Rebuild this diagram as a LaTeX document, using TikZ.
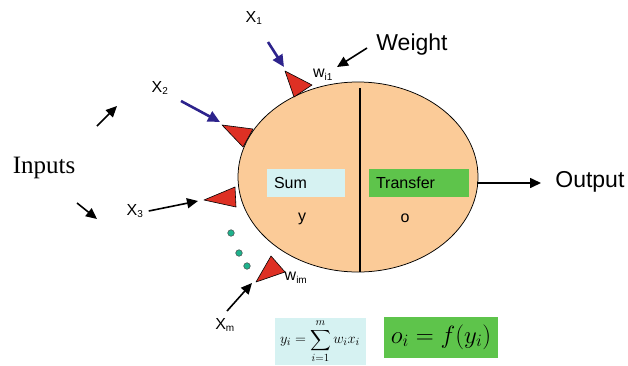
\documentclass[tikz,border=0pt]{standalone}
\usepackage{amsmath}
\usepackage{fontspec}
\setmainfont{Liberation Sans}
\newfontfamily\seriffont{Liberation Serif}
\usepackage{tikz}
\usetikzlibrary{arrows.meta,positioning,calc}
\definecolor{peach}{RGB}{251,203,152}
\definecolor{sumcyan}{RGB}{214,242,242}
\definecolor{trgreen}{RGB}{94,196,75}
\definecolor{wred}{RGB}{222,48,36}
\definecolor{inblue}{RGB}{45,35,140}
\definecolor{dotteal}{RGB}{30,178,140}
\tikzset{every picture/.style={line width=0.75pt}}
\tikzset{
  lbl/.style={font=\fontsize{16}{18}\selectfont, inner sep=1pt},
  big/.style={font=\fontsize{23}{26}\selectfont, inner sep=1pt},
  boxlbl/.style={font=\fontsize{16}{18}\selectfont, inner ysep=0pt, inner xsep=7pt,
    minimum height=28pt, align=left},
  wtri/.style={fill=wred, draw=black, line width=0.6pt, line join=round},
  blk/.style={-{Triangle[length=11pt,width=10pt]}, line width=1.6pt},
  blu/.style={-{Triangle[length=12pt,width=11pt]}, line width=2.6pt, inblue},
  dotc/.style={fill=dotteal, draw=black!70, line width=0.5pt}
}
\newcommand{\xsub}[2]{#1\textsubscript{\fontsize{10}{10}\selectfont #2}}

\begin{document}
\begin{tikzpicture}[x=1pt, y=-1pt]
    \useasboundingbox (0,0) rectangle (628,365);

    % 神经元主体
    \fill[peach] (358,177) ellipse [x radius=120, y radius=95];
    \draw (358,177) ellipse [x radius=120, y radius=95];
    \draw[line width=1.2pt] (360,88) -- (360,272);

    % 求和与传递
    \node[boxlbl, fill=sumcyan, text width=64pt] (sum) at (306,183) {Sum};
    \node[boxlbl, fill=trgreen, text width=86pt] (transfer) at (419,183) {Transfer};
    \node[lbl] (y) at (302,219) {y};
    \node[lbl] (o) at (405,218) {o};

    % 输出
    \coordinate (outstart) at (477,183);
    \coordinate (outend) at (541,183);
    \node[big, anchor=west] (output) at (554,182) {Output};
    \draw[blk] (outstart) -- (outend);

    % 权重三角
    \draw[wtri] (285,71) -- (294,97) -- (312,85) -- cycle;
    \draw[wtri] (222,125) -- (243,147) -- (253,129) -- cycle;
    \draw[wtri] (204,200) -- (235,187) -- (236,207) -- cycle;
    \draw[wtri] (256,282) -- (271,256) -- (285,272) -- cycle;
    \node[lbl] (wi1) at (323,75) {\xsub{w}{i1}};
    \node[lbl] (wim) at (296,278) {\xsub{w}{im}};

    % 标注权重
    \node[big] (weight) at (412,45) {Weight};
    \coordinate (wtip) at (337,67);
    \draw[blk] (weight.west) ++(-8,3) -- (wtip);

    % 输入
    \node[lbl] (x1) at (254,18) {\xsub{X}{1}};
    \node[lbl] (x2) at (160,88) {\xsub{X}{2}};
    \node[lbl] (x3) at (135,211) {\xsub{X}{3}};
    \node[lbl] (xm) at (225,325) {\xsub{X}{m}};
    \coordinate (t1) at (284,67);
    \coordinate (t2) at (220,122);
    \coordinate (t3) at (198,201);
    \coordinate (tm) at (252,283);
    \draw[blu] (268,42) -- (t1);
    \draw[blu] (181,101) -- (t2);
    \draw[blk] (x3.east) ++(4,0) -- (t3);
    \draw[blk] (227,311) -- (tm);

    % 省略的输入
    \foreach \p in {(231,233),(239,253),(247,266)}
        \draw[dotc] \p circle (3.3);

    % Inputs 标签
    \node[font=\seriffont\fontsize{25}{28}\selectfont] (inputs) at (44,168) {Inputs};
    \coordinate (up) at (117,106);
    \coordinate (dn) at (97,219);
    \draw[blk] (97,126) -- (up);
    \draw[blk] (77,203) -- (dn);

    % 公式
    \node[fill=sumcyan, minimum width=91pt, minimum height=47pt, inner sep=0pt,
          font=\fontsize{15}{17}\selectfont, anchor=south] (eqsum) at (320,365)
          {$\displaystyle y_i=\sum_{i=1}^{m} w_i x_i$};
    \node[fill=trgreen, minimum width=114pt, minimum height=41pt, inner sep=0pt,
          font=\fontsize{24}{28}\selectfont] (eqf) at (441,337) {$o_i=f(y_i)$};
\end{tikzpicture}
\end{document}
